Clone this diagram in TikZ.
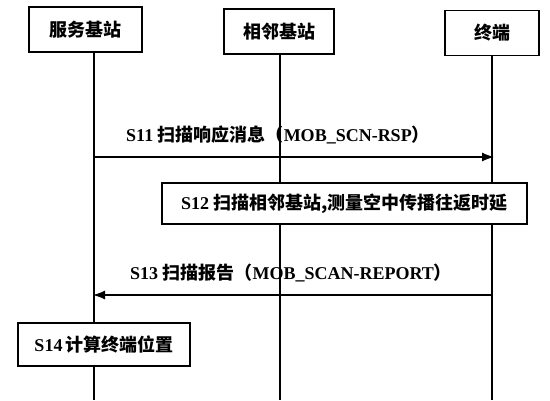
\documentclass[tikz,border=0pt]{standalone}
\usepackage{fontspec}
\setmainfont{Liberation Serif}
\newfontfamily\cjkfont[Scale=1.0]{Noto Sans CJK SC}
\newcommand\zh[1]{{\cjkfont\bfseries #1}}
\usetikzlibrary{arrows.meta}
\tikzset{
  actor/.style={draw, line width=1.4pt, fill=white, inner sep=0pt, font=\fontsize{18}{20}\selectfont\bfseries},
  stepbox/.style={draw, line width=1.4pt, fill=white, inner sep=0pt, font=\fontsize{18}{20}\selectfont\bfseries},
  lifeline/.style={line width=1.2pt},
  msg/.style={line width=1.2pt, -{Latex[length=12pt,width=9pt]}},
  lbl/.style={font=\fontsize{18}{20}\selectfont\bfseries, inner sep=0pt}
}
\begin{document}
\begin{tikzpicture}[x=1pt,y=-1pt]
\useasboundingbox (0,0) rectangle (550,400);
% lifelines
\coordinate (l1t) at (94,52); \coordinate (l1b) at (94,400);
\coordinate (l2t) at (280,54); \coordinate (l2b) at (280,400);
\coordinate (l3t) at (492,56); \coordinate (l3b) at (492,400);
\draw[lifeline] (l1t) -- (l1b);
\draw[lifeline] (l2t) -- (l2b);
\draw[lifeline] (l3t) -- (l3b);
% actors
\node[actor, minimum width=113pt, minimum height=45pt] (a1) at (85.5,29.5) {\zh{服务基站}};
\node[actor, minimum width=110pt, minimum height=45pt] (a2) at (279,31.5) {\zh{相邻基站}};
\node[actor, minimum width=94pt, minimum height=45pt] (a3) at (492,33) {\zh{终端}};
% S11
\coordinate (s11a) at (94,157); \coordinate (s11b) at (494,157);
\draw[msg] (s11a) -- (s11b);
\node[lbl] (t11) at (278,135) {S11 \zh{扫描响应消息（}MOB\_SCN-RSP\zh{）}};
% S12
\node[stepbox, minimum width=365pt, minimum height=41pt] (s12) at (344.5,203.5) {S12 \zh{扫描相邻基站,测量空中传播往返时延}};
% S13
\coordinate (s13a) at (492,295); \coordinate (s13b) at (93,295);
\draw[msg] (s13a) -- (s13b);
\node[lbl] (t13) at (291,273) {S13 \zh{扫描报告（}MOB\_SCAN-REPORT\zh{）}};
% S14
\node[stepbox, minimum width=172pt, minimum height=43pt] (s14) at (104,344.5) {S14\,\zh{计算终端位置}};
\end{tikzpicture}
\end{document}
